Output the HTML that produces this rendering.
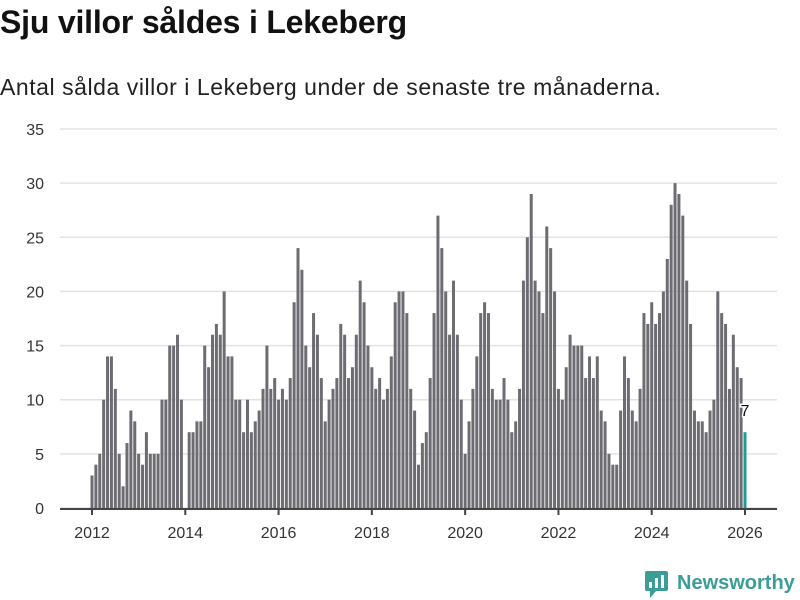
<!DOCTYPE html>
<html><head><meta charset="utf-8"><style>
body{margin:0;width:800px;height:600px;background:#fff;overflow:hidden;font-family:"Liberation Sans",sans-serif;}
#title{position:absolute;left:0;top:4px;font-size:32px;font-weight:bold;color:#111;letter-spacing:-0.2px}
#sub{position:absolute;left:0;top:74px;font-size:23px;color:#222;letter-spacing:0.55px}
svg{position:absolute;left:0;top:0}
</style></head><body>
<div id="title">Sju villor såldes i Lekeberg</div>
<div id="sub">Antal sålda villor i Lekeberg under de senaste tre månaderna.</div>
<svg id="c" width="800" height="600"></svg>
<script>
const values=[3,4,5,10,14,14,11,5,2,6,9,8,5,4,7,5,5,5,10,10,15,15,16,10,
0,7,7,8,8,15,13,16,17,16,20,
14,14,10,10,7,10,7,8,9,11,15,11,12,10,11,10,12,19,24,22,15,13,18,16,12,8,10,11,12,17,16,12,13,16,21,
19,15,13,11,12,10,11,14,19,20,20,18,11,9,4,6,7,12,18,27,24,20,16,21,16,10,5,
8,11,14,18,19,18,11,10,10,12,10,7,8,11,21,25,29,21,20,18,26,24,20,
11,10,13,16,15,15,15,12,14,12,14,9,8,5,4,4,9,14,12,9,
8,11,18,17,19,17,18,20,23,28,30,29,27,21,17,9,8,8,7,9,10,20,18,17,11,16,13,12,7];
const startYear=2012;
const yTicks=[0,5,10,15,20,25,30,35];
const xTicks=[2012,2014,2016,2018,2020,2022,2024,2026];
const NS="http://www.w3.org/2000/svg";
const svg=document.getElementById('c');
const n=values.length;
function X(i){return 92+i*(653/168);}
function XY(y){return 92+(y-startYear)*12*(653/168);}
function Y(v){return 508-v*(379/35);}
function mk(t,a){const e=document.createElementNS(NS,t);for(const k in a)e.setAttribute(k,a[k]);svg.appendChild(e);return e;}
yTicks.forEach(t=>{
 const g=mk('line',{x1:60,x2:777,y1:Y(t),y2:Y(t),stroke:'#e2e2e2','stroke-width':1.5});
 
 
 const l=mk('text',{x:44,y:Y(t)+6,'text-anchor':'end','font-size':16,fill:'#333','font-family':'Liberation Sans, sans-serif'});
 l.textContent=t;
 
 
});
values.forEach((v,i)=>{
 const last=i===n-1;
 const b=mk('rect',{x:X(i)-1.5,y:Y(v),width:3,height:Y(0)-Y(v),fill:last?'#1a9e96':'#6d6c72'});
 
 
});
const ax=mk('line',{x1:60,x2:777,y1:509,y2:509,stroke:'#444','stroke-width':2});


xTicks.forEach(t=>{
 const tk=mk('line',{x1:XY(t),x2:XY(t),y1:509,y2:515,stroke:'#444','stroke-width':2});
 
 
 const l=mk('text',{x:XY(t),y:538,'text-anchor':'middle','font-size':16,fill:'#333','font-family':'Liberation Sans, sans-serif'});
 l.textContent=t;
 
 
});
const lv=values[n-1];
const lab=mk('text',{x:X(n-1),y:Y(lv)-16,'text-anchor':'middle','font-size':16,fill:'#111',stroke:'#fff','stroke-width':3,'paint-order':'stroke','font-family':'Liberation Sans, sans-serif'});
lab.textContent=lv;


</script>
<svg width="800" height="600" style="position:absolute;left:0;top:0">
<rect x="645" y="571" width="23" height="20" rx="2" fill="#3a9e96"/>
<polygon points="650,598 656,591 650,591" fill="#3a9e96"/>
<rect x="649" y="582" width="3" height="6" fill="#fff"/><rect x="655" y="578" width="3" height="10" fill="#fff"/><rect x="661" y="575" width="3" height="13" fill="#fff"/>
<text x="677" y="589" font-size="20" font-weight="bold" fill="#3a9e96" font-family="Liberation Sans, sans-serif">Newsworthy</text>
</svg>
</body></html>
